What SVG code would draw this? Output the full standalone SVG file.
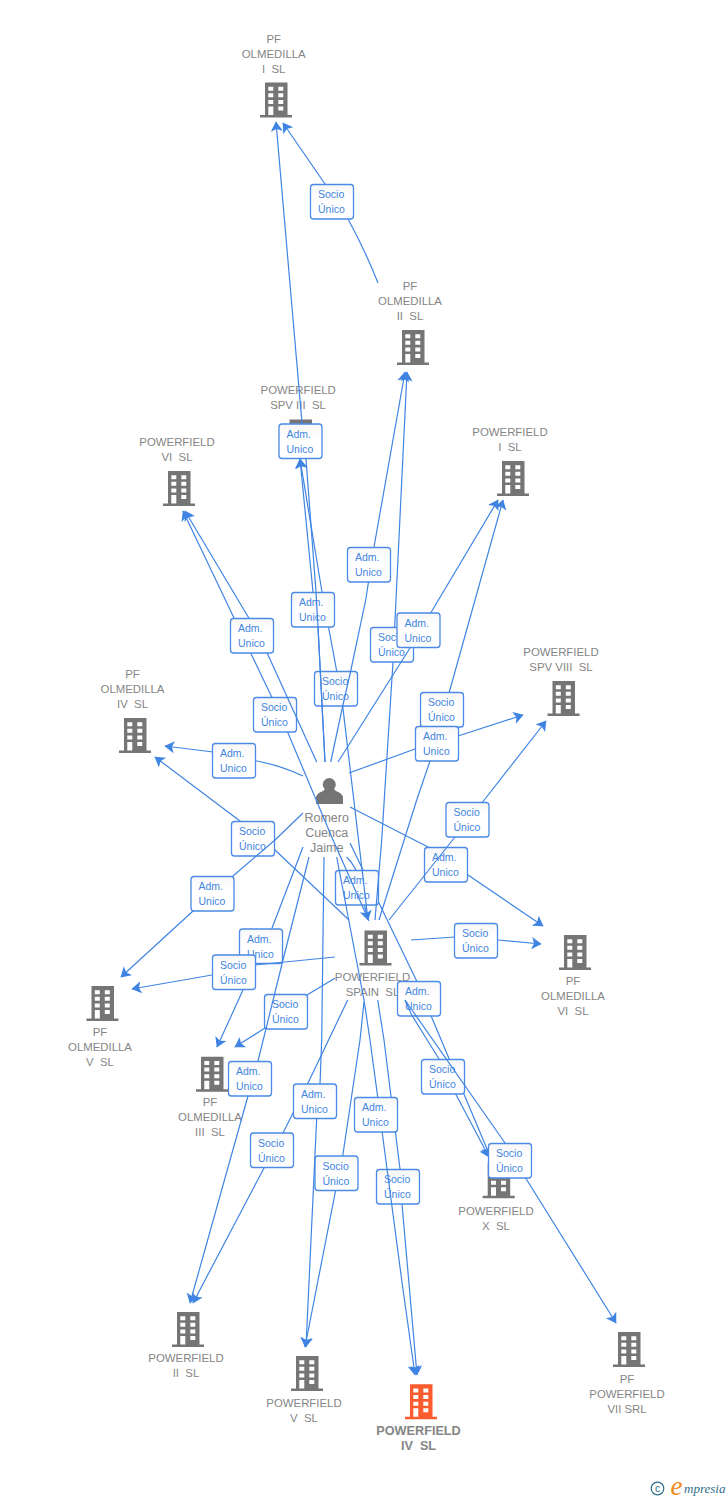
<svg xmlns="http://www.w3.org/2000/svg" width="728" height="1500" viewBox="0 0 728 1500">
<style>
text{font-family:"Liberation Sans",Arial,sans-serif;white-space:pre}
.n{font-size:11.4px;fill:#858585;text-anchor:middle}
.p{font-size:12.5px;fill:#858585;text-anchor:middle}
.h{font-size:12.7px;font-weight:bold;fill:#858585;text-anchor:middle}
.l{fill:none;stroke:#3f84e3;stroke-width:1.2;stroke-linejoin:round}
.a{marker-end:url(#ah)}
.b{fill:url(#bg);stroke:#4a8ae6;stroke-width:1.3}
.t{font-size:10.5px;fill:#4285e0}
</style>
<defs>
<linearGradient id="bg" x1="0" y1="0" x2="0" y2="1"><stop offset="0" stop-color="#f7f7f7"/><stop offset="0.4" stop-color="#ffffff"/></linearGradient>
<marker id="ah" markerUnits="userSpaceOnUse" markerWidth="14" markerHeight="14" refX="9.5" refY="6" orient="auto" viewBox="0 0 12 12"><path d="M10 6L1.5 0.8L3.5 6L1.5 11.2Z" fill="#3f84e3"/></marker>
<symbol id="bld" width="32" height="35" viewBox="0 0 32 35" overflow="visible">
<path fill-rule="evenodd" d="M5 0H27.5V32.5H32V35H0V32.5H5ZM8.3 4.2V8.2H13.3V4.2ZM18.3 4.2V8.2H23.3V4.2ZM8.3 10.8V14.8H13.3V10.8ZM18.3 10.8V14.8H23.3V10.8ZM8.3 17.5V21.5H13.3V17.5ZM18.3 17.5V21.5H23.3V17.5ZM18.3 24V28H23.3V24ZM8.3 24V32.5H13.3V24Z"/>
</symbol>
</defs>
<rect width="728" height="1500" fill="#ffffff"/>
<g id="nodes">
<g id="pf-olmedilla-i" fill="#757575"><use href="#bld" x="260" y="82.5"/><text class="n"><tspan x="273.7" y="43.3">PF</tspan><tspan x="273.7" y="58.3">OLMEDILLA</tspan><tspan x="273.7" y="73.3">I  SL</tspan></text></g>
<g id="pf-olmedilla-ii" fill="#757575"><use href="#bld" x="397" y="330"/><text class="n"><tspan x="410" y="290">PF</tspan><tspan x="410" y="305">OLMEDILLA</tspan><tspan x="410" y="320">II  SL</tspan></text></g>
<g id="powerfield-spv-iii" fill="#757575"><use href="#bld" x="284.5" y="419.5"/><text class="n"><tspan x="298.2" y="394">POWERFIELD</tspan><tspan x="298" y="409">SPV III  SL</tspan></text></g>
<g id="powerfield-vi" fill="#757575"><use href="#bld" x="163" y="471"/><text class="n"><tspan x="177" y="446">POWERFIELD</tspan><tspan x="177" y="461">VI  SL</tspan></text></g>
<g id="powerfield-i" fill="#757575"><use href="#bld" x="497" y="461"/><text class="n"><tspan x="510" y="436">POWERFIELD</tspan><tspan x="510" y="451">I  SL</tspan></text></g>
<g id="powerfield-spv-viii" fill="#757575"><use href="#bld" x="547.5" y="681"/><text class="n"><tspan x="561" y="656">POWERFIELD</tspan><tspan x="561" y="671">SPV VIII  SL</tspan></text></g>
<g id="pf-olmedilla-iv" fill="#757575"><use href="#bld" x="119" y="718"/><text class="n"><tspan x="132.5" y="678">PF</tspan><tspan x="132.5" y="693">OLMEDILLA</tspan><tspan x="132.5" y="708">IV  SL</tspan></text></g>
<g id="romero" fill="#757575"><circle cx="329.3" cy="784.5" r="6.5"/><path d="M316 804V797Q317 793 323 791L326 788H333L336 791Q342 793 343 797V804Z"/><text class="p"><tspan x="326.7" y="822">Romero</tspan><tspan x="326.7" y="837">Cuenca</tspan><tspan x="326.7" y="852">Jaime</tspan></text></g>
<g id="powerfield-spain" fill="#757575"><use href="#bld" x="359.5" y="930.5"/><text class="n"><tspan x="372.5" y="981">POWERFIELD</tspan><tspan x="372.5" y="996">SPAIN  SL</tspan></text></g>
<g id="pf-olmedilla-vi" fill="#757575"><use href="#bld" x="559" y="935"/><text class="n"><tspan x="573" y="985">PF</tspan><tspan x="573" y="1000">OLMEDILLA</tspan><tspan x="573" y="1015">VI  SL</tspan></text></g>
<g id="pf-olmedilla-v" fill="#757575"><use href="#bld" x="86.5" y="986"/><text class="n"><tspan x="100" y="1036">PF</tspan><tspan x="100" y="1051">OLMEDILLA</tspan><tspan x="100" y="1066">V  SL</tspan></text></g>
<g id="pf-olmedilla-iii" fill="#757575"><use href="#bld" x="196" y="1056.7"/><text class="n"><tspan x="210" y="1106">PF</tspan><tspan x="210" y="1121">OLMEDILLA</tspan><tspan x="210" y="1136">III  SL</tspan></text></g>
<g id="powerfield-x" fill="#757575"><use href="#bld" x="482.7" y="1163.3"/><text class="n"><tspan x="496" y="1215">POWERFIELD</tspan><tspan x="496" y="1230">X  SL</tspan></text></g>
<g id="pf-powerfield-vii" fill="#757575"><use href="#bld" x="613" y="1332"/><text class="n"><tspan x="627" y="1382.7">PF</tspan><tspan x="627" y="1397.7">POWERFIELD</tspan><tspan x="627" y="1412.7">VII SRL</tspan></text></g>
<g id="powerfield-ii" fill="#757575"><use href="#bld" x="172" y="1312"/><text class="n"><tspan x="186" y="1362">POWERFIELD</tspan><tspan x="186" y="1377">II  SL</tspan></text></g>
<g id="powerfield-v" fill="#757575"><use href="#bld" x="291" y="1356"/><text class="n"><tspan x="304" y="1407">POWERFIELD</tspan><tspan x="304" y="1422">V  SL</tspan></text></g>
<g id="powerfield-iv" fill="#fa5c2f"><use href="#bld" x="405" y="1384.3"/><text class="h"><tspan x="418.5" y="1435">POWERFIELD</tspan><tspan x="418.5" y="1450">IV  SL</tspan></text></g>
</g>
<g id="connectors">
<g><path class="l a" d="M303 847L271.7 929L243 990L217 1047"/><rect class="b" x="239.5" y="929" width="43" height="34.5" rx="3"/><text class="t"><tspan x="247" y="942.5">Adm.</tspan><tspan x="247" y="957.5">Unico</tspan></text></g>
<g><path class="l a" d="M350 843L416.7 981L430.7 1015L490 1156"/><rect class="b" x="397.5" y="981.5" width="43" height="34.5" rx="3"/><text class="t"><tspan x="405" y="995">Adm.</tspan><tspan x="405" y="1010">Unico</tspan></text></g>
<g><path class="l a" d="M346.7 857Q352 862 356 870L368 920"/><rect class="b" x="335.5" y="870.5" width="43" height="34.5" rx="3"/><text class="t"><tspan x="343" y="884">Adm.</tspan><tspan x="343" y="899">Unico</tspan></text></g>
<g><path class="l a" d="M350 807L428 847L468 875L543 926"/><rect class="b" x="424.5" y="847.5" width="43" height="34.5" rx="3"/><text class="t"><tspan x="432" y="861">Adm.</tspan><tspan x="432" y="876">Unico</tspan></text></g>
<g><path class="l a" d="M378 283Q365 250 348 219L325 184L283 123"/><rect class="b" x="310.5" y="184.5" width="43" height="34.5" rx="3"/><text class="t"><tspan x="318" y="198">Socio</tspan><tspan x="318" y="213">Único</tspan></text></g>
<g><path class="l a" d="M369 921L333 840L288 733L271.7 697L183 511"/><rect class="b" x="253.5" y="697.5" width="43" height="34.5" rx="3"/><text class="t"><tspan x="261" y="711">Socio</tspan><tspan x="261" y="726">Único</tspan></text></g>
<g><path class="l a" d="M316.7 762L266.7 652L250 620L185 511"/><rect class="b" x="230.5" y="618.5" width="43" height="34.5" rx="3"/><text class="t"><tspan x="238" y="632">Adm.</tspan><tspan x="238" y="647">Unico</tspan></text></g>
<g><path class="l a" d="M368 920L342.7 706L336.7 671L322 592L300 459"/><rect class="b" x="314.5" y="671.5" width="43" height="34.5" rx="3"/><text class="t"><tspan x="322" y="685">Socio</tspan><tspan x="322" y="700">Único</tspan></text></g>
<g><path class="l a" d="M375 920L381.7 840L393 662L407 372"/><rect class="b" x="370.5" y="627.5" width="43" height="34.5" rx="3"/><text class="t"><tspan x="378" y="641">Socio</tspan><tspan x="378" y="656">Único</tspan></text></g>
<g><path class="l a" d="M379 920L416.7 800L430 761L449.3 692L503 500"/><rect class="b" x="420.5" y="692.5" width="43" height="34.5" rx="3"/><text class="t"><tspan x="428" y="706">Socio</tspan><tspan x="428" y="721">Único</tspan></text></g>
<g><path class="l a" d="M349 920L275 850L240 821L155 757"/><rect class="b" x="231.5" y="821.5" width="43" height="34.5" rx="3"/><text class="t"><tspan x="239" y="835">Socio</tspan><tspan x="239" y="850">Único</tspan></text></g>
<g><path class="l a" d="M335 957L255 965L212 975L132 989"/><rect class="b" x="212.5" y="955" width="43" height="34.5" rx="3"/><text class="t"><tspan x="220" y="968.5">Socio</tspan><tspan x="220" y="983.5">Único</tspan></text></g>
<g><path class="l a" d="M335.3 978L307 995L265 1028L235 1047"/><rect class="b" x="264.5" y="994.5" width="43" height="34.5" rx="3"/><text class="t"><tspan x="272" y="1008">Socio</tspan><tspan x="272" y="1023">Único</tspan></text></g>
<g><path class="l a" d="M347.7 1000L308 1083L283 1133L264 1168L193 1303"/><rect class="b" x="250.5" y="1133" width="43" height="34.5" rx="3"/><text class="t"><tspan x="258" y="1146.5">Socio</tspan><tspan x="258" y="1161.5">Único</tspan></text></g>
<g><path class="l a" d="M364 1002L360 1040L342.7 1156L335.7 1190L305 1347"/><rect class="b" x="315" y="1156" width="43" height="34.5" rx="3"/><text class="t"><tspan x="322.5" y="1169.5">Socio</tspan><tspan x="322.5" y="1184.5">Único</tspan></text></g>
<g><path class="l a" d="M377.7 1000L384 1040L400 1169L402 1204L417 1375"/><rect class="b" x="376.5" y="1169.5" width="43" height="34.5" rx="3"/><text class="t"><tspan x="384" y="1183">Socio</tspan><tspan x="384" y="1198">Único</tspan></text></g>
<g><path class="l a" d="M405 1000L411.7 1015L439 1059L455.7 1094L489 1157"/><rect class="b" x="421.5" y="1059.5" width="43" height="34.5" rx="3"/><text class="t"><tspan x="429" y="1073">Socio</tspan><tspan x="429" y="1088">Único</tspan></text></g>
<g><path class="l a" d="M405 1000L505 1143L525 1177L616 1323"/><rect class="b" x="488.5" y="1143.5" width="43" height="34.5" rx="3"/><text class="t"><tspan x="496" y="1157">Socio</tspan><tspan x="496" y="1172">Único</tspan></text></g>
<g><path class="l" d="M411 940L455 937"/><path class="l a" d="M498 940L541 944"/><rect class="b" x="454.5" y="923.5" width="43" height="34.5" rx="3"/><text class="t"><tspan x="462" y="937">Socio</tspan><tspan x="462" y="952">Único</tspan></text></g>
<g><path class="l a" d="M389 920L455 837L482.7 802L546 721"/><rect class="b" x="446" y="802.5" width="43" height="34.5" rx="3"/><text class="t"><tspan x="453.5" y="816">Socio</tspan><tspan x="453.5" y="831">Único</tspan></text></g>
<g><path class="l a" d="M325 762L318 627L313 592L300 459"/><rect class="b" x="291.5" y="592.5" width="43" height="34.5" rx="3"/><text class="t"><tspan x="299" y="606">Adm.</tspan><tspan x="299" y="621">Unico</tspan></text></g>
<g><path class="l a" d="M325 762L318 627L316 592L306 459L302 423L276 122"/><rect class="b" x="279" y="424" width="43" height="34.5" rx="3"/><text class="t"><tspan x="286.5" y="437.5">Adm.</tspan><tspan x="286.5" y="452.5">Unico</tspan></text></g>
<g><path class="l a" d="M330.7 762L342.7 706L350.7 671L365.7 600L374 547L405 372"/><rect class="b" x="347.5" y="547.5" width="43" height="34.5" rx="3"/><text class="t"><tspan x="355" y="561">Adm.</tspan><tspan x="355" y="576">Unico</tspan></text></g>
<g><path class="l a" d="M338 762L410 648L430.7 613L498 500"/><rect class="b" x="397" y="613" width="43" height="34.5" rx="3"/><text class="t"><tspan x="404.5" y="626.5">Adm.</tspan><tspan x="404.5" y="641.5">Unico</tspan></text></g>
<g><path class="l a" d="M349 773L415 749L458 736L523 715"/><rect class="b" x="415.5" y="726.5" width="43" height="34.5" rx="3"/><text class="t"><tspan x="423" y="740">Adm.</tspan><tspan x="423" y="755">Unico</tspan></text></g>
<g><path class="l a" d="M303 776Q282 766 257 761L213 752L165 746"/><rect class="b" x="212.5" y="743.5" width="43" height="34.5" rx="3"/><text class="t"><tspan x="220" y="757">Adm.</tspan><tspan x="220" y="772">Unico</tspan></text></g>
<g><path class="l a" d="M303 813L275 840L233 876L193 911L121 977"/><rect class="b" x="191" y="876.5" width="43" height="34.5" rx="3"/><text class="t"><tspan x="198.5" y="890">Adm.</tspan><tspan x="198.5" y="905">Unico</tspan></text></g>
<g><path class="l a" d="M309 857L283 960L258 1061L248 1096L190 1303"/><rect class="b" x="228.5" y="1061.5" width="43" height="34.5" rx="3"/><text class="t"><tspan x="236" y="1075">Adm.</tspan><tspan x="236" y="1090">Unico</tspan></text></g>
<g><path class="l a" d="M324 857L321.7 1040L320 1084L316.7 1118L306 1347"/><rect class="b" x="293.5" y="1084" width="43" height="34.5" rx="3"/><text class="t"><tspan x="301" y="1097.5">Adm.</tspan><tspan x="301" y="1112.5">Unico</tspan></text></g>
<g><path class="l a" d="M336.7 857L364 1000L370 1040L377.7 1097L382 1131L401.7 1280L415 1375"/><rect class="b" x="354.5" y="1097.5" width="43" height="34.5" rx="3"/><text class="t"><tspan x="362" y="1111">Adm.</tspan><tspan x="362" y="1126">Unico</tspan></text></g>
</g>
<g id="logo">
<circle cx="657.5" cy="1488.5" r="6.3" fill="none" stroke="#2f6d8c" stroke-width="1.2"/>
<text x="657.5" y="1492" font-size="10.5" text-anchor="middle" style="fill:#2f6d8c">c</text>
<text x="670.5" y="1495" style="font-family:'Liberation Serif',serif;font-style:italic;font-size:27px;fill:#f08a1d">e</text>
<text x="684" y="1493" style="font-family:'Liberation Serif',serif;font-style:italic;font-size:13px;fill:#2f6d8c">mpresia</text>
</g>
</svg>
